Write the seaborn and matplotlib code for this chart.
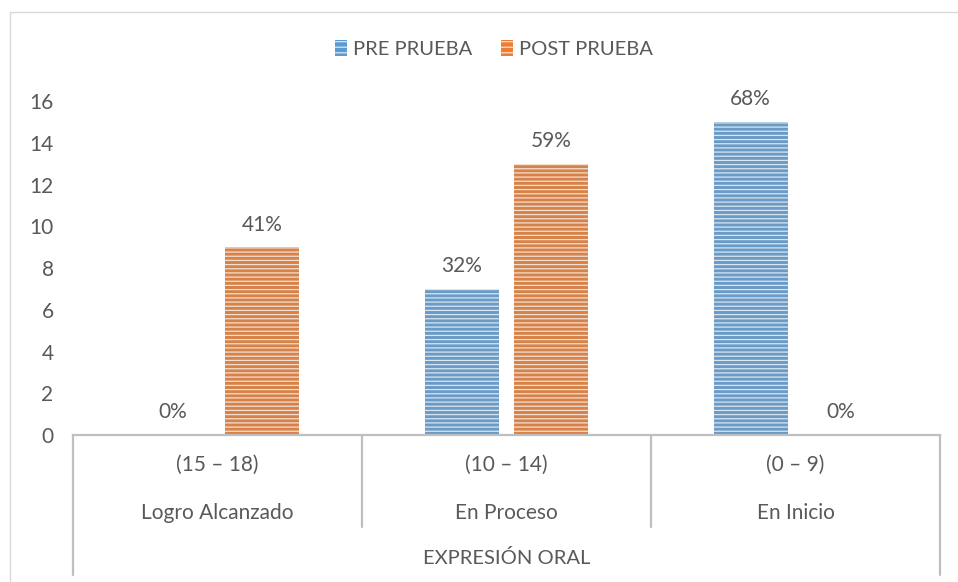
import pandas as pd
import numpy as np
import matplotlib
matplotlib.use("Agg")
import matplotlib.pyplot as plt
import matplotlib.transforms as mtransforms
from matplotlib.lines import Line2D
from matplotlib.patches import Patch
import seaborn as sns

sns.set_theme(style="white")
plt.rcParams['font.family'] = ['Lato', 'DejaVu Sans']
plt.rcParams['hatch.linewidth'] = 0.9

# ============================================
# Data
# ============================================

niveles = ["Logro Alcanzado", "En Proceso", "En Inicio"]
rangos = ["(15 – 18)", "(10 – 14)", "(0 – 9)"]
grupo = "EXPRESIÓN ORAL"
series = ["PRE PRUEBA", "POST PRUEBA"]

pre_valores = [0, 7, 15]
post_valores = [9, 13, 0]
pre_pct = ["0%", "32%", "68%"]
post_pct = ["41%", "59%", "0%"]

colores = {"PRE PRUEBA": "#5B9BD5", "POST PRUEBA": "#ED7D31"}
GRIS = "#595959"
LINEA = "#BFBFBF"
FS = 15

df = pd.DataFrame({
    "nivel": niveles * 2,
    "prueba": [series[0]] * 3 + [series[1]] * 3,
    "valor": pre_valores + post_valores,
    "pct": pre_pct + post_pct,
})

# ============================================
# Plot
# ============================================

fig = plt.figure(figsize=(9.58, 5.82), dpi=100)
ax = fig.add_axes([73 / 958, 1 - 435 / 582, 867 / 958, 334 / 582])

sns.barplot(data=df, x="nivel", y="valor", hue="prueba", order=niveles,
            hue_order=series, palette=colores, width=0.62, gap=0.17,
            legend=False, ax=ax)

# striped fill like the Excel pattern
for p in ax.patches:
    p.set_hatch("----")
    p.set_edgecolor((1, 1, 1, 0.75))
    p.set_linewidth(0)

ax.set_ylim(0, 16)
ax.set_xlim(-0.5, len(niveles) - 0.5)
ax.set_yticks(range(0, 17, 2))
ax.tick_params(axis="y", length=0, labelsize=FS, labelcolor=GRIS, pad=14)
ax.set_xticks([])
ax.set_xlabel("")
ax.set_ylabel("")
for s in ["top", "right", "left"]:
    ax.spines[s].set_visible(False)
ax.spines["bottom"].set_color(LINEA)
ax.spines["bottom"].set_linewidth(1.6)

# value labels
for cont, etiquetas in zip(ax.containers, [pre_pct, post_pct]):
    ax.bar_label(cont, labels=etiquetas, padding=9, fontsize=FS, color=GRIS)

# multi-level category axis
trans = mtransforms.blended_transform_factory(ax.transData, ax.transAxes)
for i in range(len(niveles)):
    ax.text(i, -0.09, rangos[i], transform=trans, ha="center", va="center",
            fontsize=FS, color=GRIS)
    ax.text(i, -0.234, niveles[i], transform=trans, ha="center", va="center",
            fontsize=FS, color=GRIS)
ax.text((len(niveles) - 1) / 2, -0.368, grupo, transform=trans, ha="center",
        va="center", fontsize=FS - 0.5, color=GRIS)

bordes = np.arange(len(niveles) + 1) - 0.5
for j, b in enumerate(bordes):
    fondo = -0.42 if j in (0, len(bordes) - 1) else -0.276
    ax.add_line(Line2D([b, b], [0, fondo], transform=trans, color=LINEA,
                       lw=1.6, clip_on=False))

# legend
handles = [Patch(facecolor=colores[s], edgecolor=(1, 1, 1, 0.75), hatch="---",
                 linewidth=0) for s in series]
fig.legend(handles, series, loc="center", bbox_to_anchor=(494 / 958, 1 - 49 / 582),
           ncol=2, frameon=False, fontsize=FS - 0.5, labelcolor=GRIS,
           handlelength=0.6, handleheight=0.8, handletextpad=0.3,
           columnspacing=1.4)

# chart frame (left and top edges visible)
fig.add_artist(Line2D([10 / 958, 10 / 958], [0, 1 - 12 / 582], color="#D9D9D9", lw=1))
fig.add_artist(Line2D([10 / 958, 1], [1 - 12 / 582, 1 - 12 / 582], color="#D9D9D9", lw=1))

plt.savefig("out.png", dpi=100)
